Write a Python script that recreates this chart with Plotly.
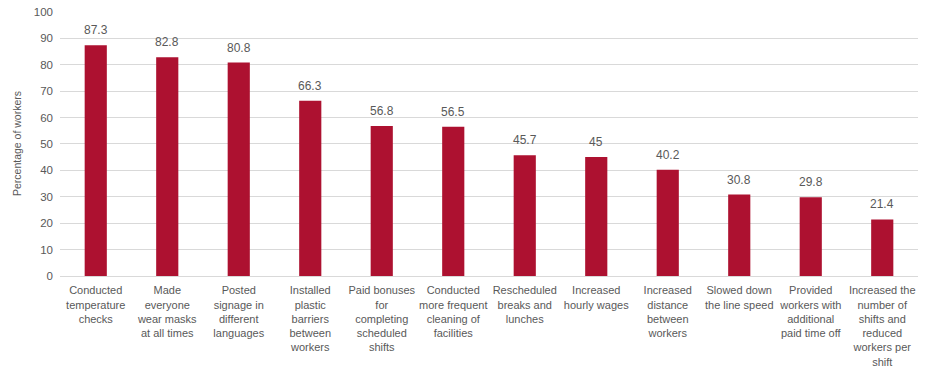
import plotly.graph_objects as go

categories = [
    "Conducted<br>temperature<br>checks",
    "Made<br>everyone<br>wear masks<br>at all times",
    "Posted<br>signage in<br>different<br>languages",
    "Installed<br>plastic<br>barriers<br>between<br>workers",
    "Paid bonuses<br>for<br>completing<br>scheduled<br>shifts",
    "Conducted<br>more frequent<br>cleaning of<br>facilities",
    "Rescheduled<br>breaks and<br>lunches",
    "Increased<br>hourly wages",
    "Increased<br>distance<br>between<br>workers",
    "Slowed down<br>the line speed",
    "Provided<br>workers with<br>additional<br>paid time off",
    "Increased the<br>number of<br>shifts and<br>reduced<br>workers per<br>shift",
]
values = [87.3, 82.8, 80.8, 66.3, 56.8, 56.5, 45.7, 45, 40.2, 30.8, 29.8, 21.4]
value_labels = ["87.3", "82.8", "80.8", "66.3", "56.8", "56.5", "45.7", "45", "40.2", "30.8", "29.8", "21.4"]
y_ticks = list(range(0, 101, 10))

FONT = "Arial, Liberation Sans, sans-serif"
GRAY = "#595959"

fig = go.Figure(go.Bar(
    x=categories, y=values,
    marker=dict(color="#AD1130", line=dict(width=0)),
    hoverinfo="skip",
))
for c, v, t in zip(categories, values, value_labels):
    fig.add_annotation(x=c, y=v, text=t, showarrow=False, yanchor="bottom", yshift=6,
                       font=dict(size=12, color=GRAY, family=FONT))

fig.update_layout(
    width=933, height=379,
    margin=dict(l=60, r=15, t=11, b=103, autoexpand=False),
    paper_bgcolor="white", plot_bgcolor="white",
    bargap=0.69,
    font=dict(family=FONT, size=11, color=GRAY),
    showlegend=False,
)
fig.update_yaxes(
    range=[0, 100.3], tickvals=y_ticks, showgrid=True, gridcolor="#D9D9D9", gridwidth=1,
    zeroline=False, ticks="", tickfont=dict(size=11.5, color=GRAY), automargin=False,
    ticklabelstandoff=6, ticklabeloverflow="allow",
    title=dict(text="Percentage of workers", font=dict(size=10.5, color=GRAY), standoff=10),
)
fig.update_xaxes(
    showline=True, linecolor="#D9D9D9", ticks="", tickangle=0, automargin=False,
    ticklabelstandoff=4, ticklabeloverflow="allow",
    tickfont=dict(size=11, color=GRAY),
)
fig.write_html("out.html", config={"displayModeBar": False},
               post_script="document.body.style.margin='0';document.body.style.overflow='hidden';")
